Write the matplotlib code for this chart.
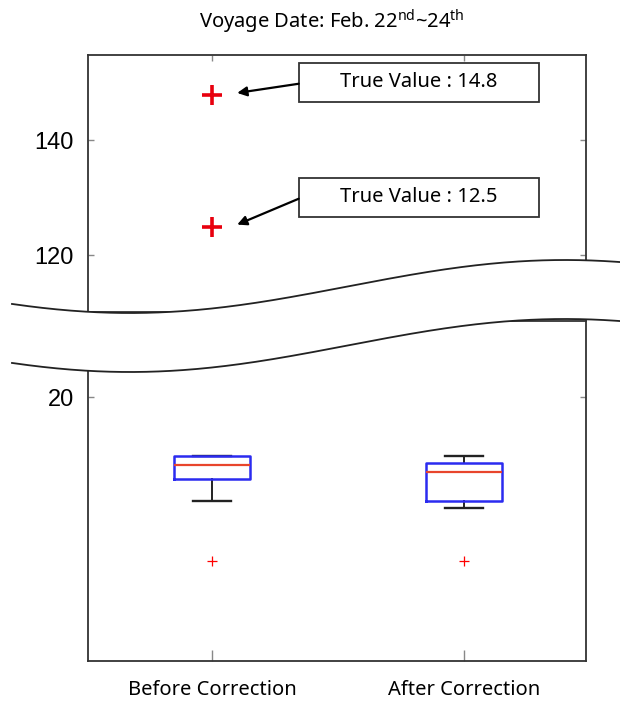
import numpy as np
import matplotlib.pyplot as plt
from matplotlib.lines import Line2D
from matplotlib.patches import Polygon, Rectangle

plt.rcParams['font.family'] = ['Noto Sans', 'DejaVu Sans']
plt.rcParams['mathtext.fontset'] = 'custom'
plt.rcParams['mathtext.rm'] = 'Noto Sans'

# data
groups = ['Before Correction', 'After Correction']
q1 = [13.8, 12.15]
med = [14.85, 14.3]
q3 = [15.5, 15.0]
whislo = [12.15, 11.6]
whishi = [15.5, 15.55]
fliers = [[7.6], [7.6]]
true_vals = [147.8, 124.9]
true_labels = ['True Value : 14.8', 'True Value : 12.5']
label_y = [150.1, 130.1]

W, H = 620, 702
fig = plt.figure(figsize=(W / 100, H / 100), dpi=100)


def rect(l, t, r, b):
    return [l / W, 1 - b / H, (r - l) / W, (b - t) / H]


ax_top = fig.add_axes(rect(88, 55, 586, 312))
ax_bot = fig.add_axes(rect(88, 321, 586, 661))

for ax in (ax_top, ax_bot):
    ax.set_xlim(0.508, 2.484)
    for s in ax.spines.values():
        s.set_color('#333333')
        s.set_linewidth(1.3)
    ax.tick_params(direction='in', length=4, width=1, color='#888888',
                   left=True, right=True, labelsize=17)
    ax.tick_params(axis='y', pad=10)

ax_top.set_ylim(110.1, 154.8)
ax_top.set_yticks([120, 140])
ax_top.set_xticks([1, 2])
ax_top.tick_params(axis='x', top=True, bottom=False, labelbottom=False)

ax_bot.set_ylim(0, 25.76)
ax_bot.set_yticks([20])

stats = []
for i in range(2):
    stats.append(dict(med=med[i], q1=q1[i], q3=q3[i], whislo=whislo[i],
                      whishi=whishi[i], fliers=fliers[i], label=groups[i]))
ax_bot.bxp(stats, positions=[1, 2], widths=0.3, capwidths=0.15,
           boxprops=dict(color='#2b2bf0', linewidth=1.8, zorder=3),
           medianprops=dict(color='#e8452c', linewidth=1.6, zorder=4),
           whiskerprops=dict(color='#222222', linewidth=1.4, linestyle='-', zorder=2),
           capprops=dict(color='#222222', linewidth=1.7, zorder=2),
           flierprops=dict(marker='+', markeredgecolor='red', markersize=7,
                           markeredgewidth=0.9))
ax_bot.set_xticks([1, 2])
ax_bot.set_xticklabels(groups, fontsize=14.5)
ax_bot.tick_params(axis='x', top=False, bottom=True, length=8, pad=14)

for ax in (ax_top, ax_bot):
    for lab in ax.get_yticklabels():
        lab.set_family('Liberation Sans')

# true values in top panel
ax_top.plot([1, 1], true_vals, linestyle='none', marker='+', color='#e8000e',
            markersize=15, markeredgewidth=2.6)

hw, hh = 0.476, 3.39
for v, ty, txt in zip(true_vals, label_y, true_labels):
    ax_top.add_patch(Rectangle((1.82 - hw, ty - hh), 2 * hw, 2 * hh,
                               facecolor='white', edgecolor='#333333', lw=1.3))
    ax_top.text(1.82, ty, txt, ha='center', va='center', fontsize=14.5)
    ax_top.annotate('', xy=(1.1, v + 0.4), xytext=(1.82 - hw, ty - 0.3),
                    arrowprops=dict(arrowstyle='-|>', color='black', lw=1.6,
                                    mutation_scale=14, shrinkA=0, shrinkB=0))

# axis break
xs = np.linspace(12, 620, 300)
yu = 286.5 + 26.5 * np.cos(np.pi * (xs - 130) / 435)
yl = yu + 59
band = np.vstack([np.column_stack([xs, yu]), np.column_stack([xs[::-1], yl[::-1]])])
band[:, 0] /= W
band[:, 1] = 1 - band[:, 1] / H
fig.add_artist(Polygon(band, closed=True, facecolor='white', edgecolor='none',
                       transform=fig.transFigure, zorder=5))
for yy in (yu, yl):
    fig.add_artist(Line2D(xs / W, 1 - yy / H, color='#222222', lw=1.3,
                          transform=fig.transFigure, zorder=6))

fig.text(332 / W, 1 - 22 / H,
         r'Voyage Date: Feb. 22$^{\mathrm{nd}}$~24$^{\mathrm{th}}$',
         ha='center', va='center', fontsize=14.5)

fig.savefig('out.png', dpi=100)
